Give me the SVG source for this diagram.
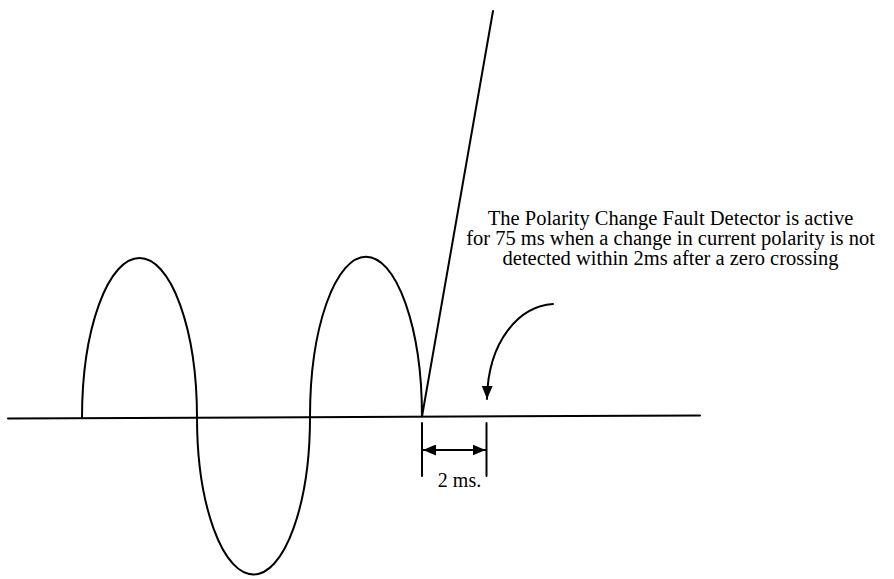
<svg xmlns="http://www.w3.org/2000/svg" width="894" height="579" viewBox="0 0 894 579">
<style>
.ln{fill:none;stroke:#000;stroke-width:2;stroke-linecap:round}
.txt{font-family:"Liberation Serif","Times New Roman",serif;font-size:20px;fill:#000}
.note{font-size:20.5px}
</style>
<defs>
<marker id="ah" viewBox="0 0 13 11" refX="13" refY="5.5" markerWidth="13" markerHeight="11" markerUnits="userSpaceOnUse" orient="auto-start-reverse">
<path d="M0,0 L13,5.5 L0,11 Z" fill="#000"/>
</marker>
</defs>
<rect width="894" height="579" fill="#fff"/>
<g id="axis">
<line class="ln" x1="8" y1="418.5" x2="700" y2="415.5"/>
</g>
<g id="waveform">
<path class="ln" d="M82,418 A57.5,160 0 0 1 197,418 A56.5,157 0 0 0 310,417 A56,160 0 0 1 422,416.5 L493,11"/>
</g>
<g id="dimension">
<line class="ln" x1="422" y1="423" x2="422" y2="476"/>
<line class="ln" x1="486.5" y1="423" x2="486.5" y2="476"/>
<line class="ln" x1="423" y1="450" x2="485.5" y2="450" marker-start="url(#ah)" marker-end="url(#ah)"/>
<text class="txt" x="459.5" y="487" text-anchor="middle">2 ms.</text>
</g>
<g id="connectors">
<path class="ln" d="M553,304 C520,306 488,340 487,399" marker-end="url(#ah)"/>
</g>
<g id="note" class="txt note">
<text x="670.5" y="225" text-anchor="middle">The Polarity Change Fault Detector is active</text>
<text x="670.5" y="245" text-anchor="middle">for 75 ms when a change in current polarity is not</text>
<text x="670.5" y="265" text-anchor="middle">detected within 2ms after a zero crossing</text>
</g>
</svg>
